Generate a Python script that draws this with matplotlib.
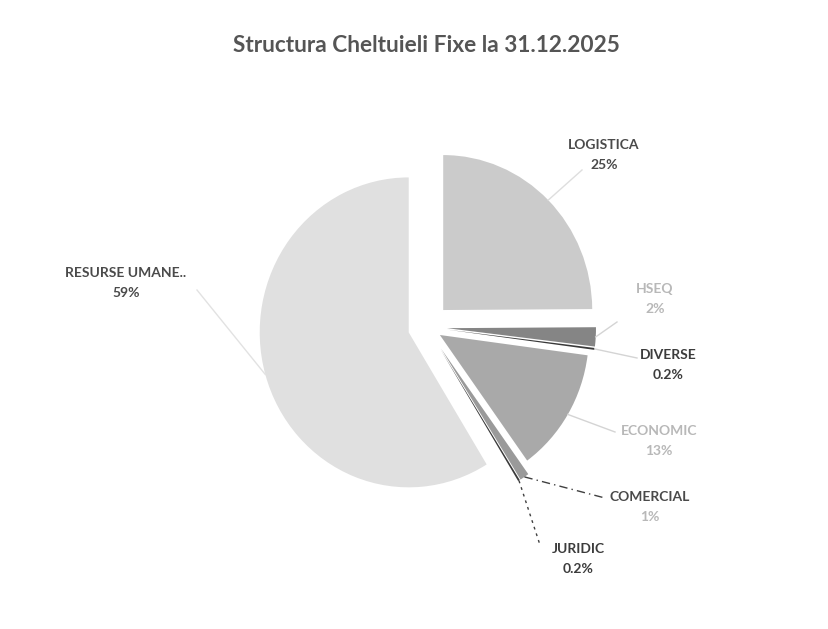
import numpy as np
import matplotlib.pyplot as plt

# values (percent of fixed costs)
categories = ["LOGISTICA", "HSEQ", "DIVERSE", "ECONOMIC", "COMERCIAL", "JURIDIC", "RESURSE UMANE.."]
shares = [25, 2, 0.2, 13, 1, 0.2, 59]
pct_labels = ["25%", "2%", "0.2%", "13%", "1%", "0.2%", "59%"]

colors = ["#cbcbcb", "#858585", "#3a3a3a", "#a9a9a9", "#9a9a9a", "#3a3a3a", "#e0e0e0"]
explode = [23, 20, 20, 15, 25, 25, 19]
text_colors = ["#4a4a4a", "#b8b8b8", "#3c3c3c", "#b8b8b8", "#4a4a4a", "#3c3c3c", "#4a4a4a"]
pct_colors = ["#4a4a4a", "#b8b8b8", "#3c3c3c", "#b8b8b8", "#b8b8b8", "#3c3c3c", "#4a4a4a"]

# label anchor positions (pixels in the 829x629 picture)
label_pos = [(604, 155), (655, 299), (668, 365), (659, 441), (650, 507), (578, 559), (126, 283)]
line_end = [(582, 170), (617, 322), (637, 358), (615, 432), (605, 498), (540, 545), (197, 290)]
line_style = [("#dedede", "-"), ("#d4d4d4", "-"), ("#d4d4d4", "-"), ("#d4d4d4", "-"),
              ("#404040", (0, (6, 3, 1, 3))), ("#404040", (0, (2, 3))), ("#e2e2e2", "-")]

W, H = 829, 629
SY = 1.04  # the scan is slightly stretched vertically


def py(y):
    return (H - y) / SY


fig = plt.figure(figsize=(W / 100, H / 100), dpi=100)
ax = fig.add_axes([0, 0, 1, 1])

center = (427, py(327))
radius = 149
wedges, _ = ax.pie(shares, colors=colors, startangle=90, counterclock=False,
                   explode=explode, radius=radius, center=center,
                   frame=True, wedgeprops=dict(linewidth=0))

ax.set_xlim(0, W)
ax.set_ylim(0, H / SY)
ax.set_aspect("auto")
ax.axis("off")

font = ["Lato", "DejaVu Sans"]
for i, w in enumerate(wedges):
    tm = np.deg2rad(0.5 * (w.theta1 + w.theta2))
    sx = w.center[0] + w.r * 1.0 * np.cos(tm)
    sy = w.center[1] + w.r * 1.0 * np.sin(tm)
    ex, ey = line_end[i]
    c, ls = line_style[i]
    ax.plot([sx, ex], [sy, py(ey)], color=c, lw=1.0, linestyle=ls, zorder=3)

    lx, ly = label_pos[i]
    ax.text(lx, py(ly - 10), categories[i], ha="center", va="center", fontsize=10,
            fontweight="bold", color=text_colors[i], family=font)
    ax.text(lx, py(ly + 10), pct_labels[i], ha="center", va="center", fontsize=10,
            fontweight="bold", color=pct_colors[i], family=font)

ax.text(426, py(45), "Structura Cheltuieli Fixe la 31.12.2025", ha="center", va="center",
        fontsize=16.3, fontweight="bold", color="#555555", family=font)

fig.savefig("out.png", dpi=100, facecolor="white")
